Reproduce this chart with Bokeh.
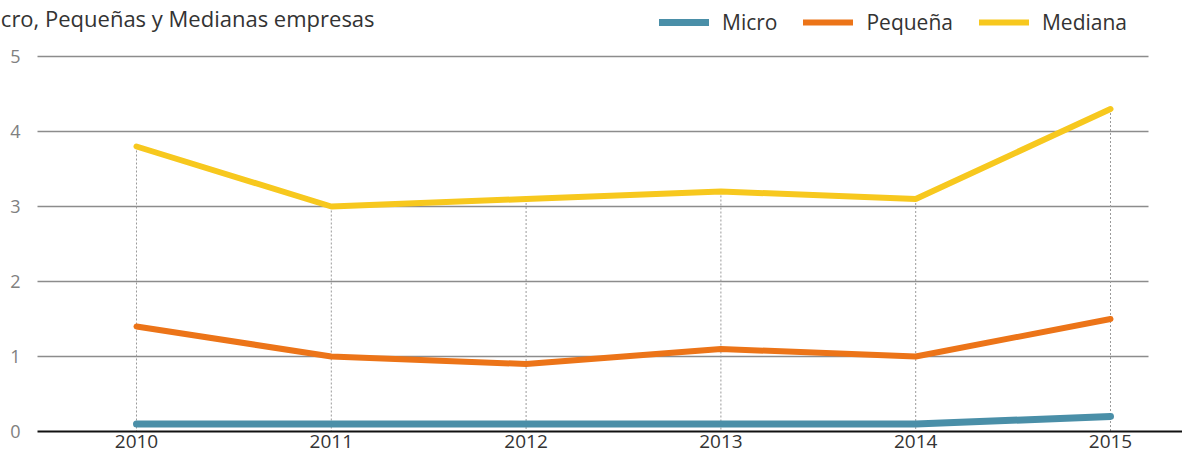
from bokeh.plotting import figure
from bokeh.models import Range1d, Legend, LegendItem, FixedTicker, ColumnDataSource
from bokeh.core.properties import value
from bokeh.embed import file_html
from bokeh.resources import INLINE

years = [2010, 2011, 2012, 2013, 2014, 2015]
micro = [0.1, 0.1, 0.1, 0.1, 0.1, 0.2]
pequena = [1.4, 1.0, 0.9, 1.1, 1.0, 1.5]
mediana = [3.8, 3.0, 3.1, 3.2, 3.1, 4.3]
y_ticks = [0, 1, 2, 3, 4, 5]
title_text = "Micro, Pequeñas y Medianas empresas"
series_names = ["Micro", "Pequeña", "Mediana"]

FONT = "Open Sans"
C_MICRO = "#4a8fa8"
C_PEQ = "#ec7418"
C_MED = "#f7c81e"

W, H = 1182, 453
PX_X = (1110 - 136) / 5.0   # px per year
PX_Y = (431 - 56) / 5.0     # px per unit
x_start = 2010 - 136 / PX_X
x_end = x_start + W / PX_X
y_end = 5 + 56 / PX_Y
y_start = y_end - H / PX_Y

p = figure(width=W, height=H, output_backend="svg", toolbar_location=None,
           x_range=Range1d(x_start, x_end), y_range=Range1d(y_start, y_end),
           min_border_left=0, min_border_right=0, min_border_top=0, min_border_bottom=0)
p.outline_line_color = None
p.xgrid.grid_line_color = None
p.ygrid.grid_line_color = None

grid_x0 = x_start + 37 / PX_X
grid_x1 = x_start + 1148 / PX_X

# horizontal gridlines
gy = [t for t in y_ticks if t > 0]
p.segment(x0=[grid_x0] * len(gy), y0=gy, x1=[grid_x1] * len(gy), y1=gy,
          line_color="#8c8c8c", line_width=1.5)

# dotted drop lines from Mediana down to axis
p.segment(x0=years, y0=mediana, x1=years, y1=[0] * len(years),
          line_color="#9a9a9a", line_width=1, line_dash="2 2")

r_micro = p.line(years, micro, line_color=C_MICRO, line_width=7, line_cap="round")
r_peq = p.line(years, pequena, line_color=C_PEQ, line_width=6, line_cap="round")
r_med = p.line(years, mediana, line_color=C_MED, line_width=6, line_cap="round")

# x axis drawn at y = 0 (takes no side space)
xa = p.xaxis[0]
xa.fixed_location = 0
xa.bounds = (grid_x0, x_end)
xa.ticker = FixedTicker(ticks=years)
xa.axis_line_color = "#111111"
xa.axis_line_width = 2
xa.major_tick_line_color = None
xa.minor_tick_line_color = None
xa.major_tick_out = 0
xa.major_tick_in = 0
xa.minor_tick_out = 0
xa.minor_tick_in = 0
xa.major_label_text_font = FONT
xa.major_label_text_font_size = "19px"
xa.major_label_text_color = "#333333"
xa.major_label_standoff = 3

# y axis drawn at the left end of the gridlines
ya = p.yaxis[0]
ya.fixed_location = grid_x0
ya.ticker = FixedTicker(ticks=y_ticks)
ya.axis_line_color = None
ya.major_tick_line_color = None
ya.minor_tick_line_color = None
ya.major_tick_out = 0
ya.major_tick_in = 0
ya.minor_tick_out = 0
ya.minor_tick_in = 0
ya.major_label_text_font = FONT
ya.major_label_text_font_size = "18px"
ya.major_label_text_color = "#808080"
ya.major_label_standoff = 17

legend = Legend(items=[LegendItem(label=series_names[0], renderers=[r_micro]),
                       LegendItem(label=series_names[1], renderers=[r_peq]),
                       LegendItem(label=series_names[2], renderers=[r_med])],
                orientation="horizontal", location=(659, 417),
                label_text_font=FONT, label_text_font_size="21px",
                label_text_color="#333333", glyph_width=50, glyph_height=20,
                spacing=26, label_standoff=13, padding=4, margin=0,
                background_fill_alpha=0, border_line_color=None)
p.add_layout(legend, "center")

# title (partly cut at the left edge, as in the reference)
tsrc = ColumnDataSource(dict(x=[x_start - 25 / PX_X], y=[y_end - 17 / PX_Y], t=[title_text]))
p.text(x="x", y="y", text="t", source=tsrc, text_align="left", text_baseline="alphabetic",
       text_font=value(FONT), text_font_size="22px", text_color="#333333")

open("out.html", "w").write(file_html(p, INLINE))
